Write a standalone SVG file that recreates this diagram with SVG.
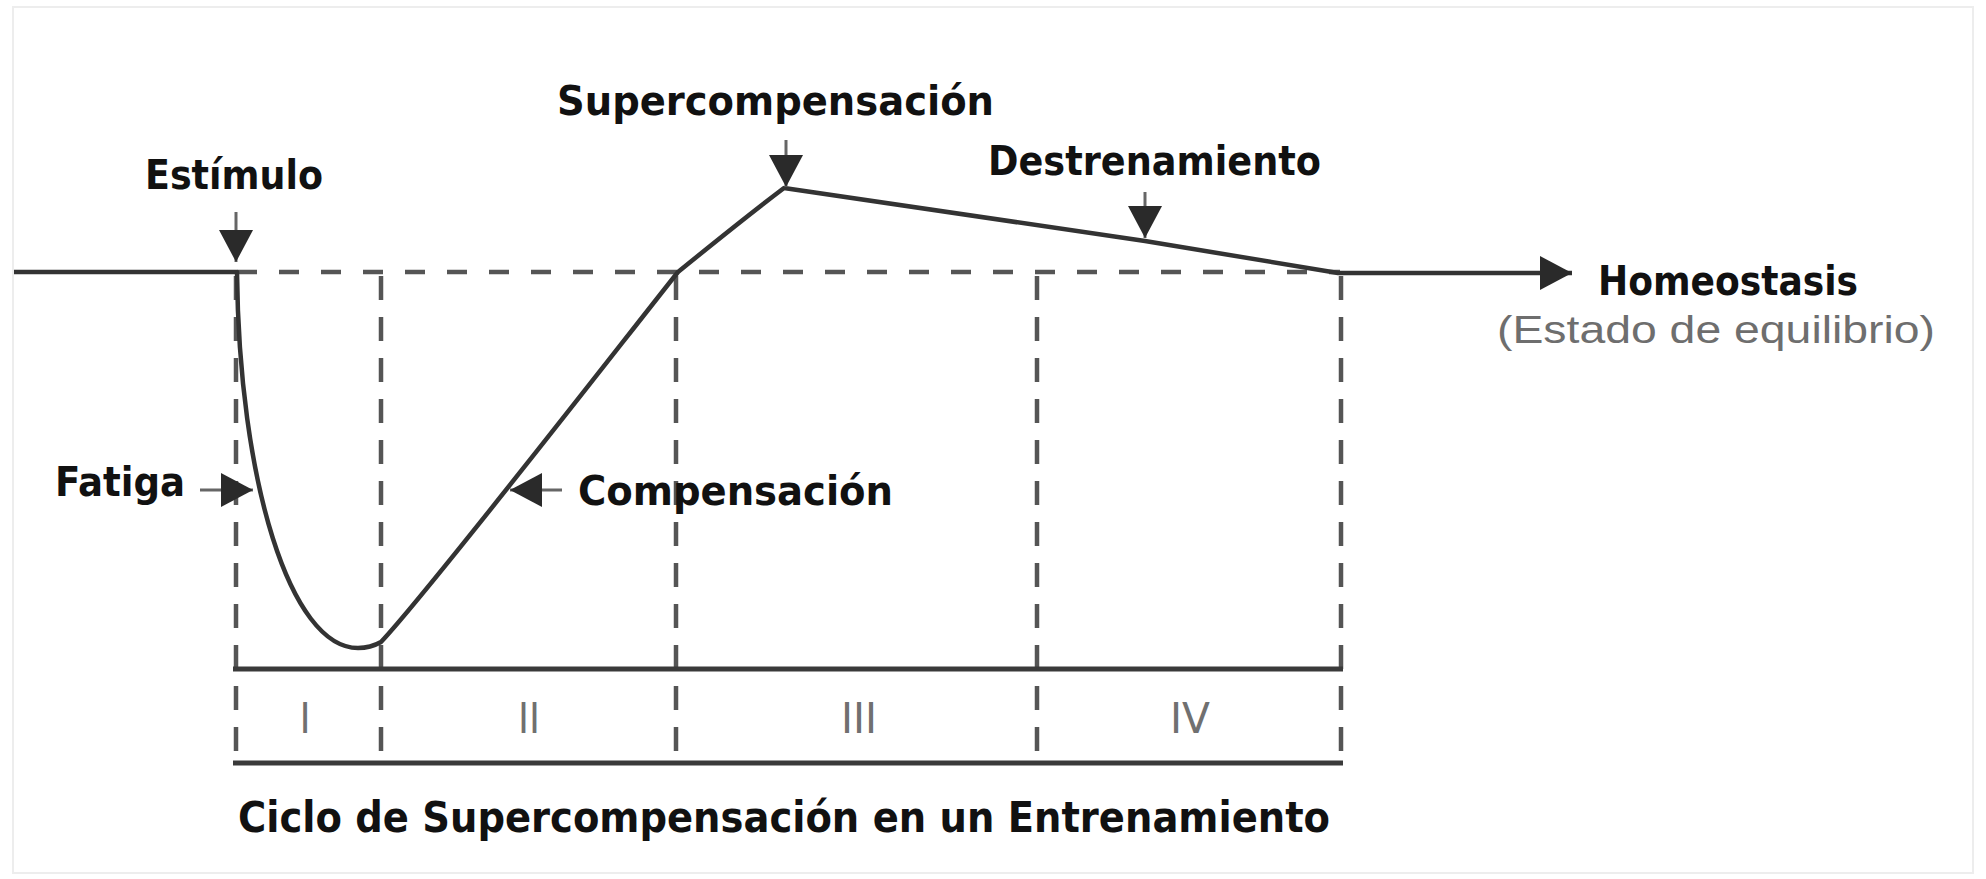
<svg xmlns="http://www.w3.org/2000/svg" width="1986" height="879" viewBox="0 0 1986 879">
  <style>
    .lbl { font-family: "Liberation Sans Narrow", "DejaVu Sans Condensed", "Liberation Sans", sans-serif; font-weight: bold; fill: #111; }
    .sub { font-family: "Liberation Sans", Arial, sans-serif; fill: #6e6e6e; }
    .num { font-family: "Liberation Sans Narrow", "DejaVu Sans Condensed", "Liberation Sans", sans-serif; fill: #707070; text-anchor: middle; }
    .curve { fill: none; stroke: #333; stroke-width: 4.5; stroke-linejoin: round; stroke-linecap: butt; }
    .dash { fill: none; stroke: #555; stroke-width: 4.5; stroke-dasharray: 20 22; }
    .vdash { fill: none; stroke: #555; stroke-width: 4.5; stroke-dasharray: 24 17; }
    .base { fill: none; stroke: #3a3a3a; stroke-width: 5; }
    .ptr { fill: none; stroke: #666; stroke-width: 3; }
  </style>
  <defs>
    <marker id="head" markerUnits="userSpaceOnUse" markerWidth="34" markerHeight="34" refX="32" refY="17" orient="auto" viewBox="0 0 34 34">
      <path d="M0,0 L32,17 L0,34 Z" fill="#2a2a2a"/>
    </marker>
  </defs>
  <rect x="0" y="0" width="1986" height="879" fill="#ffffff"/>
  <rect x="13" y="7" width="1960" height="866" fill="none" stroke="#ededed" stroke-width="2"/>

  <g id="connectors">
    <!-- reference grid -->
    <path class="dash" d="M237,272 L1340,272"/>
    <path class="vdash" d="M236,276 L236,762"/>
    <path class="vdash" d="M381,276 L381,762"/>
    <path class="vdash" d="M676,276 L676,762"/>
    <path class="vdash" d="M1037,276 L1037,762"/>
    <path class="vdash" d="M1341,276 L1341,762"/>
    <path class="base" d="M233,669 L1343,669"/>
    <path class="base" d="M233,763 L1343,763" stroke-width="6"/>
    <!-- main curve -->
    <path class="curve" marker-end="url(#head)" d="M14,272 L237,272 C239,480 290,648 358,648 C368,648 374,646 381,642 C430,590 620,345 678,272 C710,246 755,210 784,188 L1145,241 L1338,273 L1572,273"/>
    <!-- annotation arrows -->
    <path class="ptr" marker-end="url(#head)" d="M236,212 L236,262"/>
    <path class="ptr" marker-end="url(#head)" d="M786,140 L786,187"/>
    <path class="ptr" marker-end="url(#head)" d="M1145,192 L1145,238"/>
    <path class="ptr" marker-end="url(#head)" d="M200,490 L253,490"/>
    <path class="ptr" marker-end="url(#head)" d="M562,490 L510,490"/>
  </g>

  <g id="estimulo"><text class="lbl" x="145" y="189" font-size="40" textLength="178" lengthAdjust="spacingAndGlyphs">Estímulo</text></g>
  <g id="supercompensacion"><text class="lbl" x="557" y="115" font-size="40" textLength="437" lengthAdjust="spacingAndGlyphs">Supercompensación</text></g>
  <g id="destrenamiento"><text class="lbl" x="988" y="175" font-size="40" textLength="333" lengthAdjust="spacingAndGlyphs">Destrenamiento</text></g>
  <g id="fatiga"><text class="lbl" x="55" y="496" font-size="40" textLength="130" lengthAdjust="spacingAndGlyphs">Fatiga</text></g>
  <g id="compensacion"><text class="lbl" x="578" y="505" font-size="40" textLength="315" lengthAdjust="spacingAndGlyphs">Compensación</text></g>
  <g id="homeostasis">
    <text class="lbl" x="1598" y="295" font-size="41" textLength="260" lengthAdjust="spacingAndGlyphs">Homeostasis</text>
    <text class="sub" x="1497" y="343" font-size="38" textLength="438" lengthAdjust="spacingAndGlyphs">(Estado de equilibrio)</text>
  </g>
  <g id="fases">
    <text class="num" x="305" y="733" font-size="42">I</text>
    <text class="num" x="529" y="733" font-size="42" textLength="22" lengthAdjust="spacingAndGlyphs">II</text>
    <text class="num" x="859" y="733" font-size="42" textLength="36" lengthAdjust="spacingAndGlyphs">III</text>
    <text class="num" x="1190" y="733" font-size="42" textLength="40" lengthAdjust="spacingAndGlyphs">IV</text>
  </g>
  <g id="titulo"><text class="lbl" x="238" y="832" font-size="42" textLength="1092" lengthAdjust="spacingAndGlyphs">Ciclo de Supercompensación en un Entrenamiento</text></g>
</svg>
